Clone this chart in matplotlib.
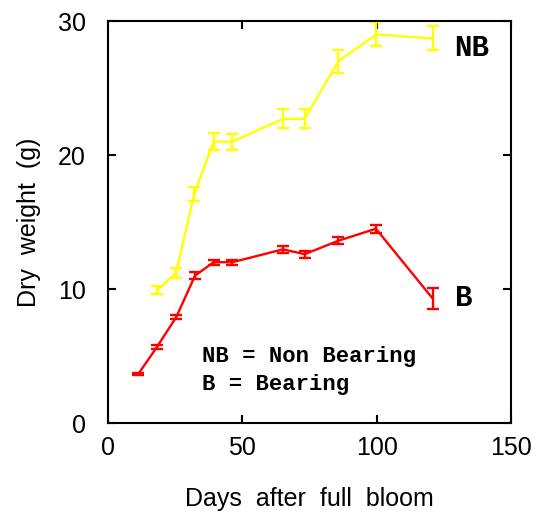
import matplotlib
matplotlib.use("Agg")
import matplotlib.pyplot as plt

# Non bearing (yellow)
nb_days = [18.3, 25.3, 32.1, 39.3, 46.3, 65.1, 73.2, 85.7, 99.9, 120.8]
nb_weight = [9.9, 11.2, 17.1, 21.0, 21.0, 22.7, 22.7, 27.0, 29.0, 28.7]
nb_err = [0.3, 0.4, 0.5, 0.65, 0.6, 0.7, 0.7, 0.87, 0.9, 0.9]

# Bearing (red)
b_days = [11.3, 18.3, 25.4, 32.4, 39.3, 46.3, 65.1, 73.2, 85.7, 99.7, 120.8]
b_weight = [3.66, 5.7, 7.9, 11.0, 12.0, 12.0, 12.96, 12.6, 13.6, 14.5, 9.3]
b_err = [0.1, 0.15, 0.15, 0.25, 0.2, 0.2, 0.25, 0.25, 0.25, 0.3, 0.8]

x_ticks = [0, 50, 100, 150]
y_ticks = [0, 10, 20, 30]

plt.rcParams["font.family"] = "Liberation Sans"

fig = plt.figure(figsize=(5.41, 5.15), dpi=100)
ax = fig.add_axes([0.1996, 0.1786, 0.745, 0.7806])

ax.errorbar(nb_days, nb_weight, yerr=nb_err, color="#ffff00", lw=1.7,
            elinewidth=1.7, capsize=4, capthick=1.7)
ax.errorbar(b_days, b_weight, yerr=b_err, color="#ff0000", lw=1.7,
            elinewidth=1.7, capsize=4, capthick=1.7)

ax.set_xlim(0, 150)
ax.set_ylim(0, 30)
ax.set_xticks(x_ticks)
ax.set_yticks(y_ticks)
ax.tick_params(direction="in", length=6, width=1.5, top=True, right=True,
               labelsize=18)
ax.tick_params(axis="x", pad=9)
ax.tick_params(axis="y", pad=16)
for s in ax.spines.values():
    s.set_linewidth(1.5)

ax.set_xlabel("Days  after  full  bloom", fontsize=18, labelpad=20)
ax.set_ylabel("Dry  weight  (g)", fontsize=18, labelpad=12)

mono = dict(family="Liberation Mono", fontweight="bold")
ax.text(129, 28.0, "NB", fontsize=21, va="center", **mono)
ax.text(129, 9.3, "B", fontsize=21, va="center", **mono)
ax.text(35, 4.93, "NB = Non Bearing", fontsize=16, va="center", **mono)
ax.text(35, 2.84, "B = Bearing", fontsize=16, va="center", **mono)

fig.savefig("out.png", dpi=100)
